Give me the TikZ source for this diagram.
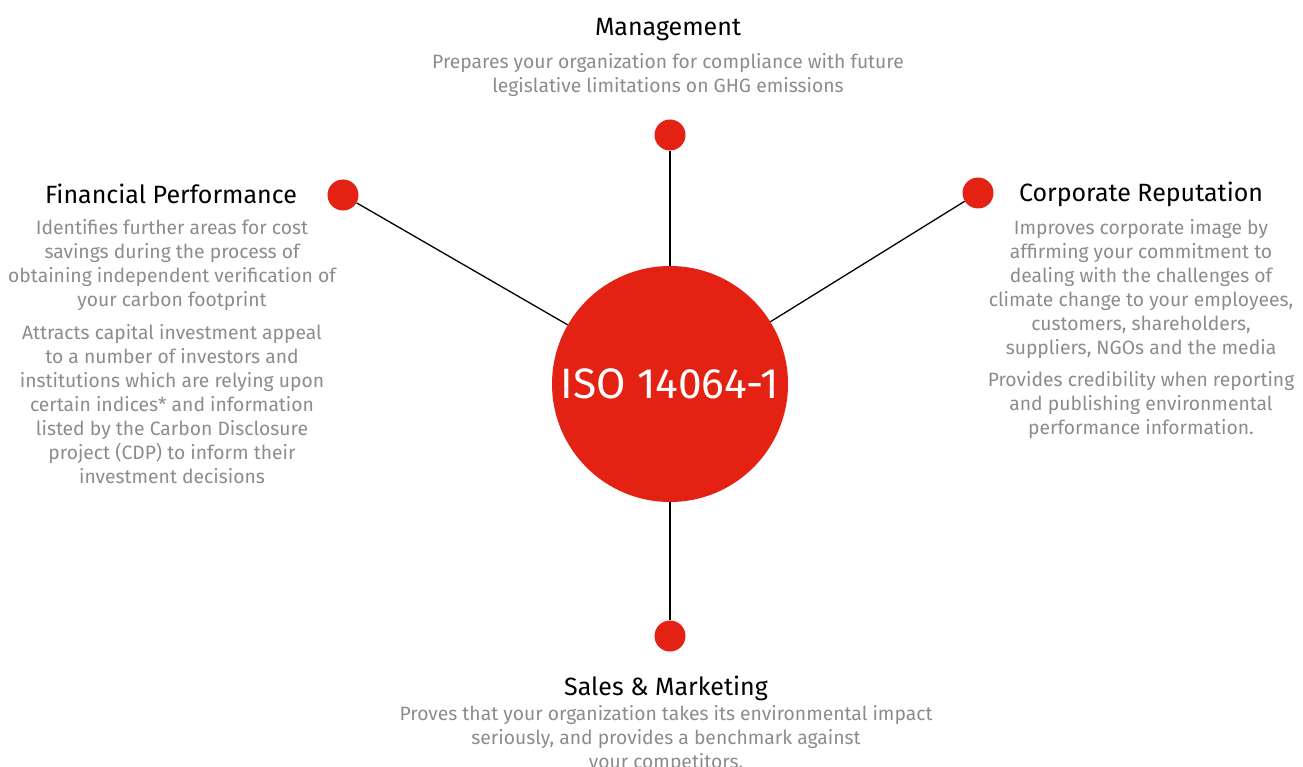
\documentclass[tikz,border=0pt]{standalone}
\usepackage{fontspec}
\setmainfont{Fira Sans}
\usetikzlibrary{positioning}
\definecolor{isored}{RGB}{227,34,19}
\definecolor{descgray}{RGB}{140,140,140}
\begin{document}
\begin{tikzpicture}[x=1pt,y=-1pt,
  title/.style={font=\fontsize{25}{28}\selectfont, text=black, inner sep=0},
  desc/.style={font=\fontsize{19.3}{24}\selectfont, text=descgray, align=center, inner sep=0},
  dot/.style={circle, fill=isored, minimum size=31pt, inner sep=0},
  spoke/.style={line width=1.3pt}]
\useasboundingbox (0,0) rectangle (1303,767);

% centre
\node[circle, fill=isored, minimum size=236pt, inner sep=0, text=white,
  font=\fontsize{42.5}{46}\selectfont] (iso) at (670,384) {ISO 14064-1};

% dots
\node[dot] (top) at (670,135) {};
\node[dot] (left) at (343,195) {};
\node[dot] (right) at (978,193) {};
\node[dot] (bottom) at (670,636) {};

\draw[spoke] (top) -- (iso);
\draw[spoke] (left) -- (iso);
\draw[spoke] (right) -- (iso);
\draw[spoke] (bottom) -- (iso);

% management
\node[title] (mgmt) at (668,30) {Management};
\node[desc] (mgmtdesc) at (668,75) {Prepares your organization for compliance with future\\
  legislative limitations on GHG emissions};

% financial performance
\node[title] (fin) at (171,194) {Financial Performance};
\node[desc] (findesca) at (172,265) {Identifies further areas for cost\\
  savings during the process of\\ obtaining independent verification of\\
  your carbon footprint};
\node[desc] (findescb) at (172,404) {Attracts capital investment appeal\\
  to a number of investors and\\ institutions which are relying upon\\
  certain indices* and information\\ listed by the Carbon Disclosure\\
  project (CDP) to inform their\\ investment decisions};

% corporate reputation
\node[title] (corp) at (1141,194) {Corporate Reputation};
\node[desc] (corpdesca) at (1141,289) {Improves corporate image by\\
  affirming your commitment to\\ dealing with the challenges of\\
  climate change to your employees,\\ customers, shareholders,\\
  suppliers, NGOs and the media};
\node[desc] (corpdescb) at (1141,405) {Provides credibility when reporting\\
  and publishing environmental\\ performance information.};

% sales and marketing
\node[title] (sales) at (666,688) {Sales \& Marketing};
\node[desc] (salesdesc) at (666,739) {Proves that your organization takes its environmental impact\\
  seriously, and provides a benchmark against\\ your competitors.};
\end{tikzpicture}
\end{document}
